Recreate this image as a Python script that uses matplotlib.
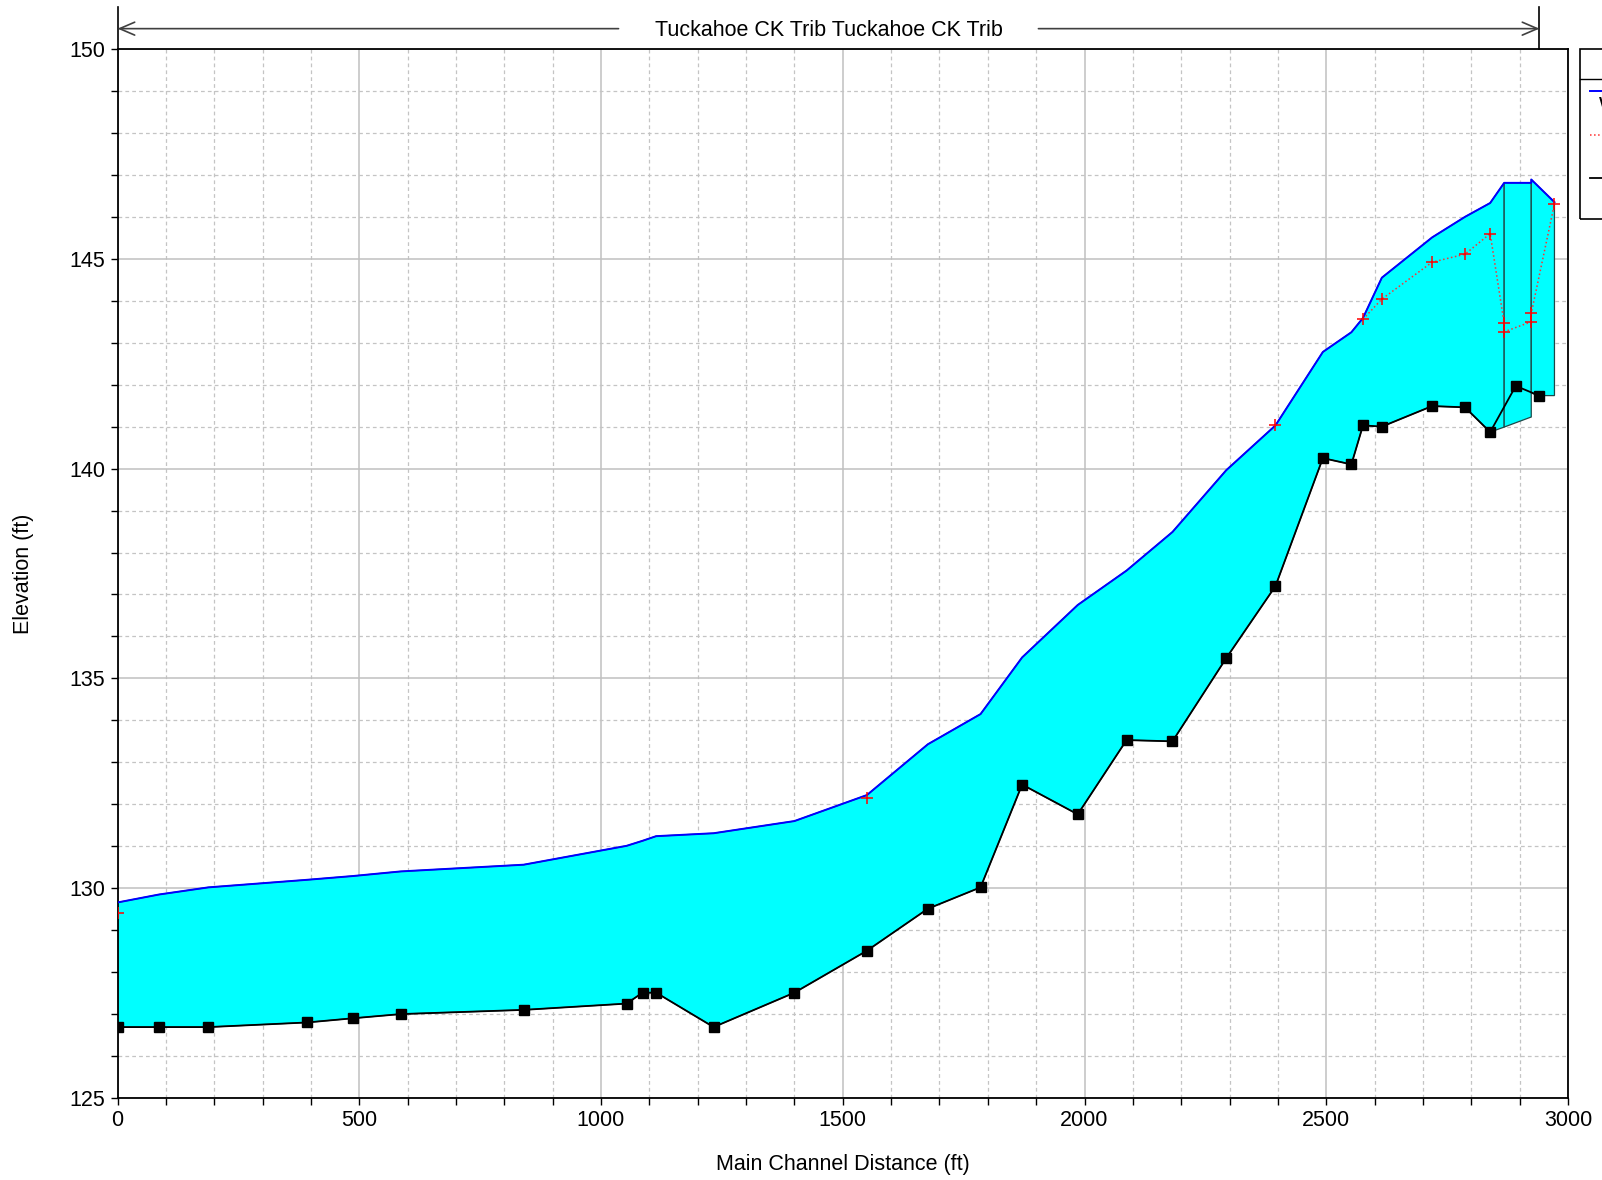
import matplotlib.pyplot as plt
import numpy as np
from matplotlib.lines import Line2D
from matplotlib.patches import Rectangle
from matplotlib.ticker import MultipleLocator

plt.rcParams['font.family'] = ['Liberation Sans', 'DejaVu Sans']
plt.rcParams['font.size'] = 15.5

W, H = 1602, 1180

# main channel invert at each cross section
ground_sta = [0, 86, 188, 392, 487, 586, 840, 1053, 1086, 1114, 1233, 1400, 1550,
              1676, 1785, 1871, 1986, 2087, 2182, 2293, 2395, 2493, 2552, 2576,
              2615, 2719, 2787, 2839, 2892, 2940]
ground_elev = [126.69, 126.69, 126.69, 126.80, 126.90, 127.00, 127.10, 127.25, 127.51,
               127.51, 126.69, 127.51, 128.51, 129.51, 130.02, 132.47, 131.76, 133.53,
               133.50, 135.48, 137.20, 140.25, 140.10, 141.03, 141.00, 141.49, 141.46,
               140.87, 141.97, 141.74]

# water surface PF 1 (structure faces at 2868 and 2924)
ws_sta = [0, 86, 188, 392, 487, 586, 840, 1053, 1086, 1114, 1233, 1400, 1550, 1676,
          1785, 1871, 1986, 2087, 2182, 2293, 2395, 2493, 2552, 2576, 2615, 2719,
          2787, 2839, 2868, 2924, 2924, 2972]
ws_elev = [129.66, 129.85, 130.02, 130.20, 130.29, 130.40, 130.56, 131.01, 131.13,
           131.24, 131.31, 131.60, 132.22, 133.43, 134.15, 135.50, 136.75, 137.57,
           138.49, 139.96, 141.03, 142.78, 143.25, 143.59, 144.55, 145.51, 146.00,
           146.33, 146.81, 146.81, 146.89, 146.35]

# invert used under the structure and at the upstream end
struct_sta = [2868, 2924]
struct_inv = [140.99, 141.23]
upper_inv_sta = [2924, 2940, 2972]
upper_inv = [141.80, 141.74, 141.74]

# critical WS PF 1, NaN where no line is drawn
crit_sta = [0, np.nan, 1550, np.nan, 2395, np.nan, 2576, 2615, 2719, 2787, 2839,
            2868, 2868, 2924, 2924, 2972]
crit_elev = [129.40, np.nan, 132.15, np.nan, 141.03, np.nan, 143.56, 144.04, 144.92,
             145.11, 145.60, 143.46, 143.26, 143.50, 143.70, 146.31]

reach_x = [0, 2941]
reach_name = "Tuckahoe CK Trib Tuckahoe CK Trib"


def water(ax, tx, ty, bx, by):
    ax.fill(np.r_[tx, bx[::-1]], np.r_[ty, by[::-1]], facecolor='#00FFFF',
            edgecolor='#1e4848', lw=0.9, zorder=2)


fig = plt.figure(figsize=(W / 100, H / 100), dpi=100)
ax = fig.add_axes([117.5 / W, (H - 1098) / H, 1450.5 / W, 1049 / H])

ax.set_xlim(0, 3000)
ax.set_ylim(125, 150)
ax.xaxis.set_major_locator(MultipleLocator(500))
ax.xaxis.set_minor_locator(MultipleLocator(100))
ax.yaxis.set_major_locator(MultipleLocator(5))
ax.yaxis.set_minor_locator(MultipleLocator(1))
ax.set_axisbelow(True)
ax.grid(which='major', color='#c0c0c0', lw=1.1, ls='-')
ax.grid(which='minor', color='#c4c4c4', lw=0.9, ls=(0, (3, 2.5)))
ax.tick_params(which='both', direction='out', length=5, width=1, pad=4)
for s in ax.spines.values():
    s.set_linewidth(1.3)

# water between WS and invert, split at the structure faces
water(ax, ws_sta[:29], ws_elev[:29], ground_sta[:28] + [2868], ground_elev[:28] + [struct_inv[0]])
water(ax, struct_sta, ws_elev[28:30], struct_sta, struct_inv)
water(ax, ws_sta[30:], ws_elev[30:], upper_inv_sta, upper_inv)

ax.plot(ground_sta, ground_elev, color='black', lw=1.3, marker='s', ms=6.5, zorder=4)
ax.plot(ws_sta, ws_elev, color='#0000ff', lw=1.4, zorder=5)
ax.plot(crit_sta, crit_elev, color='#ff3030', ls=':', lw=1.1, marker='+', ms=8,
        mew=1.1, mec='red', zorder=6)

ax.set_xlabel("Main Channel Distance (ft)", labelpad=16)
ax.set_ylabel("Elevation (ft)", labelpad=25)

# reach bracket above the plot
trans = ax.get_xaxis_transform()
y_arr = 1.0194
txt = ax.text(np.mean(reach_x), y_arr - 0.002, reach_name, transform=trans,
              ha='center', va='center')
fig.canvas.draw()
bb = txt.get_window_extent()
inv = ax.transData.inverted()
x_gap_l = inv.transform((bb.x0 - 36, 0))[0]
x_gap_r = inv.transform((bb.x1 + 36, 0))[0]
arrow = dict(arrowstyle='->,head_length=0.7,head_width=0.3', color='#404040',
             lw=1.2, shrinkA=0, shrinkB=0)
ax.annotate('', xy=(reach_x[0], y_arr), xytext=(x_gap_l, y_arr), xycoords=trans,
            textcoords=trans, arrowprops=arrow, annotation_clip=False)
ax.annotate('', xy=(reach_x[1], y_arr), xytext=(x_gap_r, y_arr), xycoords=trans,
            textcoords=trans, arrowprops=arrow, annotation_clip=False)
for xr in reach_x:
    ax.plot([xr, xr], [1.0, 1.0405], transform=trans, color='black', lw=1.2,
            clip_on=False)


# legend box at the right edge of the figure
def px(x, y):
    return x / W, 1 - y / H


x0, y0 = px(1580, 219)
x1, y1 = px(1660, 49)
fig.add_artist(Rectangle((x0, y0), x1 - x0, y1 - y0, transform=fig.transFigure,
                         fill=False, edgecolor='black', lw=1.2))
fig.add_artist(Line2D(*zip(px(1580, 79), px(1660, 79)), transform=fig.transFigure,
                      color='black', lw=1.0))
fig.add_artist(Line2D(*zip(px(1590, 91), px(1630, 91)), transform=fig.transFigure,
                      color='#0000ff', lw=1.4))
fig.add_artist(Line2D(*zip(px(1590, 135), px(1630, 135)), transform=fig.transFigure,
                      color='#ff3030', ls=':', lw=1.1))
fig.add_artist(Line2D(*zip(px(1590, 178), px(1630, 178)), transform=fig.transFigure,
                      color='black', lw=1.3))
fig.text(*px(1599, 106), "WS PF 1", ha='left', va='center')

fig.savefig("out.png", dpi=100)
